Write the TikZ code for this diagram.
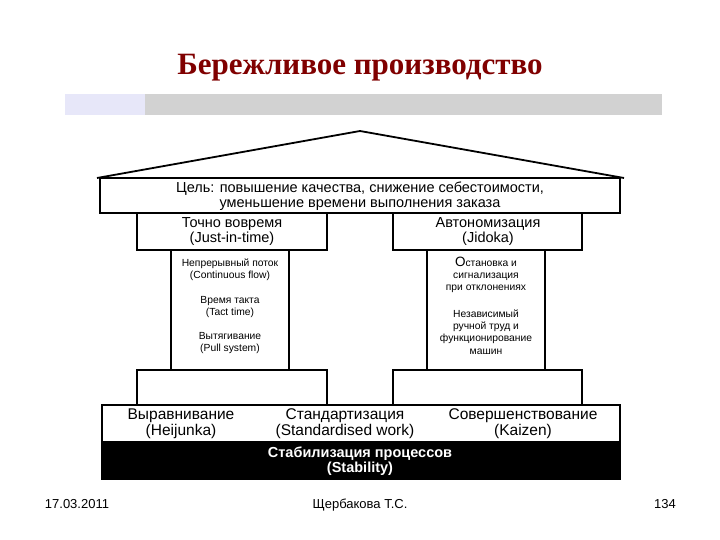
\documentclass[tikz,border=0pt]{standalone}
\usepackage{fontspec}
\setmainfont{Liberation Sans}
\newfontfamily\serifb{Liberation Serif}
\begin{document}
\begin{tikzpicture}[x=1pt,y=-1pt,
  box/.style={draw=black,line width=1.8pt,fill=white},
  txt/.style={align=center,inner sep=0pt,font=\fontsize{14.5}{15}\selectfont},
  ftx/.style={align=center,inner sep=0pt,font=\fontsize{15.5}{16}\selectfont},
  sm/.style={align=center,inner sep=0pt,font=\fontsize{10.3}{12.3}\selectfont},
  foot/.style={inner sep=0pt,anchor=base,font=\fontsize{13}{14}\selectfont}]
\useasboundingbox (0,0) rectangle (720,540);
\fill[white] (0,0) rectangle (720,540);
\node[inner sep=0pt,text=red!50!black,font=\serifb\bfseries\fontsize{31}{33}\selectfont] (title) at (360,68) {Бережливое производство};
\fill[gray!35] (65,94) rectangle (662,115);
\fill[gray!40!blue!12] (65,94) rectangle (145,115);
% roof
\draw[line width=1.8pt] (97,178) -- (360,131) -- (624,178);
\draw[box] (100,178) rectangle (620,213);
\node[txt] (goal) at (360,196) {Цель: повышение качества, снижение себестоимости,\\ уменьшение времени выполнения заказа};
% capitals
\draw[box] (137,213) rectangle (327,250);
\draw[box] (393,213) rectangle (582,250);
\node[txt] (jit) at (232,232) {Точно вовремя\\(Just-in-time)};
\node[txt] (jid) at (488,232) {Автономизация\\(Jidoka)};
% pillars
\draw[box] (171,250) rectangle (289,370);
\draw[box] (427,250) rectangle (545,370);
\node[sm] (p1) at (230,270) {Непрерывный поток\\(Continuous flow)};
\node[sm] (p2) at (230,307) {Время такта\\(Tact time)};
\node[sm] (p3) at (230,343) {Вытягивание\\(Pull system)};
\node[sm] (q1) at (486,275) {{\fontsize{13.5}{12}\selectfont О}становка и\\сигнализация\\при отклонениях};
\node[sm] (q2) at (486,332) {Независимый\\ручной труд и\\функционирование\\машин};
% bases
\draw[box] (137,370) rectangle (327,405);
\draw[box] (393,370) rectangle (582,405);
% foundation
\draw[box] (102,405) rectangle (620,442);
\fill[black] (101,442) rectangle (621,480);
\node[ftx] (h) at (181,424) {Выравнивание\\(Heijunka)};
\node[ftx] (s) at (345,424) {Стандартизация\\(Standardised work)};
\node[ftx] (k) at (523,424) {Совершенствование\\(Kaizen)};
\node[txt,text=white,font=\bfseries\fontsize{14.5}{15}\selectfont] (st) at (360,461) {Стабилизация процессов\\(Stability)};
% footer
\node[foot] (d) at (77,508) {17.03.2011};
\node[foot] (a) at (360,508) {Щербакова Т.С.};
\node[foot] (n) at (665,508) {134};
\end{tikzpicture}
\end{document}
